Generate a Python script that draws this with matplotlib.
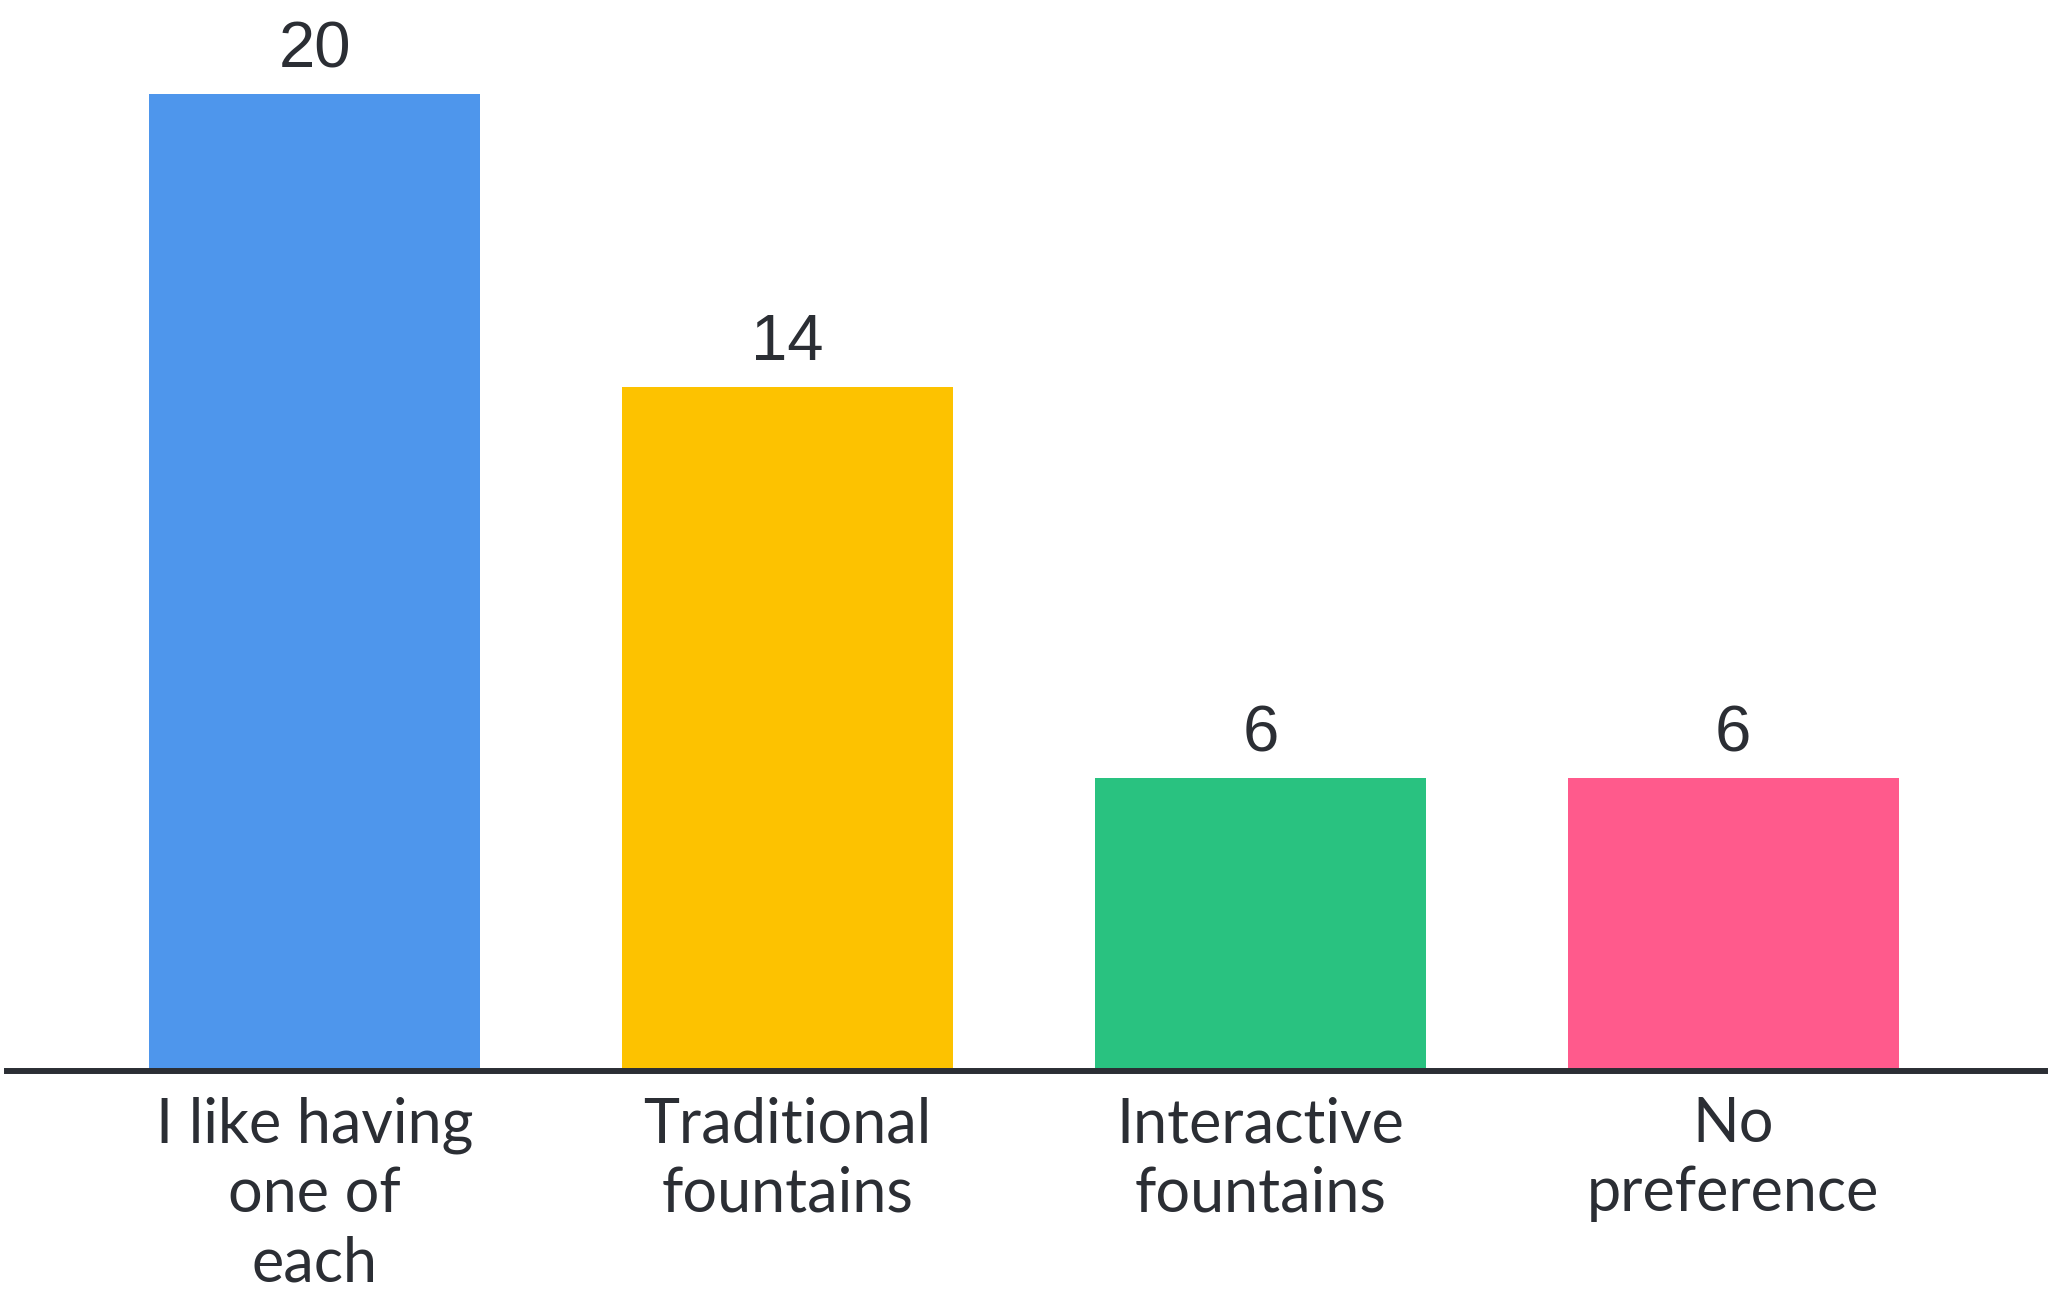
import numpy as np
import matplotlib.pyplot as plt

categories = ["I like having\none of\neach", "Traditional\nfountains",
              "Interactive\nfountains", "No\npreference"]
values = [20, 14, 6, 6]
bar_colors = ["#4E96EC", "#FDC200", "#29C280", "#FF5A8C"]

text_color = "#2B2E34"

fig = plt.figure(figsize=(20.49, 12.97), dpi=100)
ax = fig.add_axes([0.0032, 0.1742, 0.995, 0.8258])

x = np.arange(len(categories))
bars = ax.bar(x, values, width=0.7, color=bar_colors, zorder=2)

ax.bar_label(bars, labels=[str(v) for v in values], padding=10,
             fontsize=47, color=text_color, family="Liberation Sans")

ax.set_xlim(-0.652, 3.66)
ax.set_ylim(0, 21.93)

ax.set_xticks(x)
ax.set_xticklabels(categories, fontsize=44, color=text_color,
                   family="Lato", linespacing=1.27)
ax.tick_params(axis="x", length=0, pad=18)
ax.set_yticks([])

for side in ["top", "left", "right"]:
    ax.spines[side].set_visible(False)
ax.spines["bottom"].set_linewidth(4.3)
ax.spines["bottom"].set_color(text_color)
ax.spines["bottom"].set_zorder(3)

fig.savefig("out.png", dpi=100, facecolor="white")
